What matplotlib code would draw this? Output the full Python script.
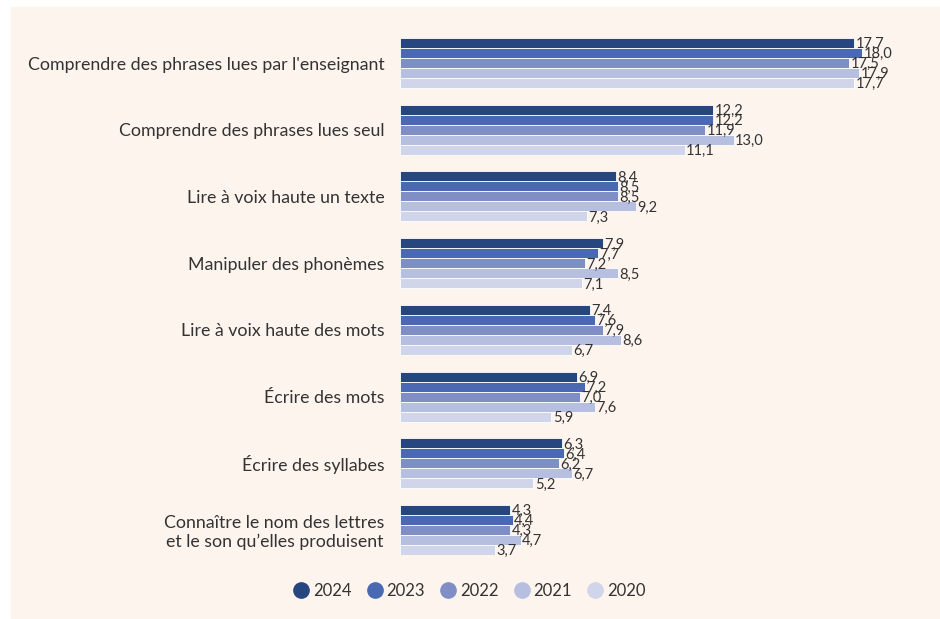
import matplotlib.pyplot as plt
import numpy as np

# données
categories = ["Comprendre des phrases lues par l'enseignant",
              "Comprendre des phrases lues seul",
              "Lire à voix haute un texte",
              "Manipuler des phonèmes",
              "Lire à voix haute des mots",
              "Écrire des mots",
              "Écrire des syllabes",
              "Connaître le nom des lettres\net le son qu’elles produisent"]
years = ["2024", "2023", "2022", "2021", "2020"]
v2024 = [17.7, 12.2, 8.4, 7.9, 7.4, 6.9, 6.3, 4.3]
v2023 = [18.0, 12.2, 8.5, 7.7, 7.6, 7.2, 6.4, 4.4]
v2022 = [17.5, 11.9, 8.5, 7.2, 7.9, 7.0, 6.2, 4.3]
v2021 = [17.9, 13.0, 9.2, 8.5, 8.6, 7.6, 6.7, 4.7]
v2020 = [17.7, 11.1, 7.3, 7.1, 6.7, 5.9, 5.2, 3.7]
series = [v2024, v2023, v2022, v2021, v2020]
colors = ["#27457f", "#4a69b2", "#7f8fc6", "#b7bfe0", "#d0d5ea"]

bg = "#fdf4ee"
txt = "#333333"
plt.rcParams['font.family'] = ['Lato', 'DejaVu Sans']

fig = plt.figure(figsize=(9.4, 6.19), dpi=100)
# fond beige
fig.patches.append(plt.Rectangle((11 / 940, 0.002), 1, (618 - 7) / 619,
                                 transform=fig.transFigure, color=bg, zorder=-10))

ax = fig.add_axes([400 / 940, 1 - 555 / 619, 500 / 940, 517 / 619])
ax.set_facecolor('none')

h = 0.15
y0 = np.arange(len(categories))
for k, vals in enumerate(series):
    ys = y0 + k * h
    ax.barh(ys, vals, height=h, color=colors[k], edgecolor='white',
            linewidth=0.6, align='edge', label=years[k])
    for y, v in zip(ys, vals):
        ax.text(v + 0.05, y + h / 2 + 0.02, f"{v:.1f}".replace('.', ','),
                va='center', ha='left', fontsize=10.5, color=txt)

ax.set_xlim(0, 500 / 25.67)
ax.set_ylim(7.75, 0)
ax.set_yticks(y0 + 2.5 * h)
ax.set_yticklabels(categories, fontsize=12.8, color=txt, multialignment='center')
ax.set_xticks([])
ax.tick_params(axis='y', length=0, pad=11)
for s in ax.spines.values():
    s.set_visible(False)

fig.legend(loc='center', bbox_to_anchor=(470 / 940, 1 - 591 / 619), ncol=5,
           frameon=False, fontsize=12, handlelength=0.8, handleheight=1.0,
           handletextpad=0.3, columnspacing=1.0, labelcolor=txt,
           handles=[plt.Line2D([], [], marker='o', linestyle='', markersize=11,
                               color=c) for c in colors],
           labels=years)

plt.savefig("out.png", dpi=100)
